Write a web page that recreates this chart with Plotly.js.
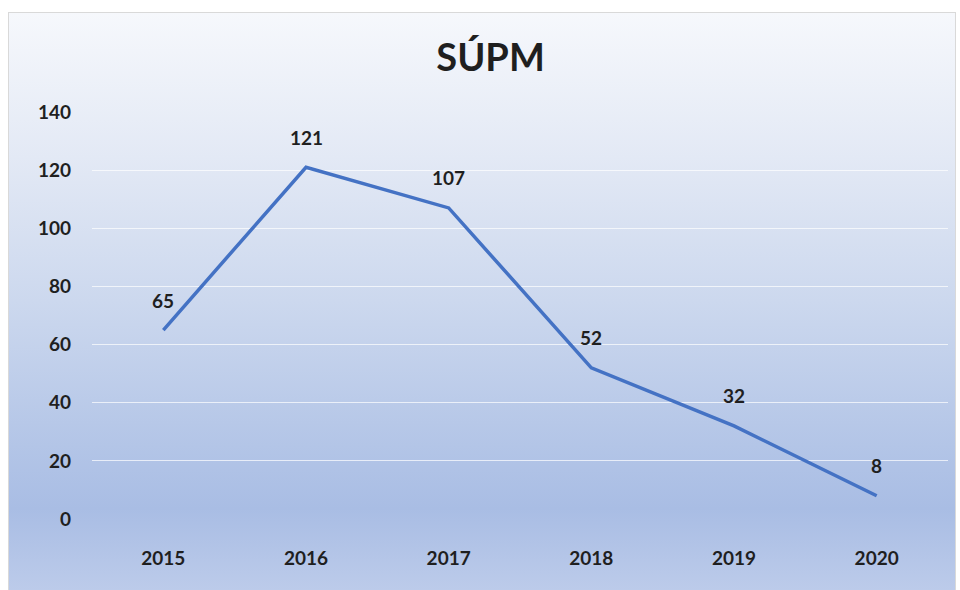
<!DOCTYPE html>
<html>
<head>
<meta charset="utf-8">
<script src="https://cdn.plot.ly/plotly-3.0.1.min.js"></script>
<style>
html,body{margin:0;padding:0;background:#ffffff;}
#bg{position:absolute;left:8px;top:12px;width:946px;height:577px;border:1px solid #d9d9d9;
background:linear-gradient(to bottom,#f6f8fc 0%,#e3e9f5 25%,#ccd8ee 50%,#b3c5e7 75%,#a9bde4 86%,#bccbea 100%);}
#chart{position:absolute;left:0;top:0;width:960px;height:590px;}
</style>
</head>
<body>
<div id="bg"></div>
<div id="chart"></div>
<script>
const years = ['2015','2016','2017','2018','2019','2020'];
const values = [65,121,107,52,32,8];
const yTicks = [0,20,40,60,80,100,120,140];

const fontFam = 'Lato, "Open Sans", sans-serif';
const trace = {
  x: years, y: values, type: 'scatter', mode: 'lines',
  line: {color: '#4472c4', width: 3.5},
  hoverinfo: 'skip'
};
const annotations = years.map((yr, i) => ({
  x: i, y: values[i], xref: 'x', yref: 'y', text: String(values[i]),
  showarrow: false, yshift: 30,
  font: {family: fontFam, size: 19, color: '#1f1f1f', weight: 700}
}));
const layout = {
  width: 960, height: 590,
  paper_bgcolor: 'rgba(0,0,0,0)', plot_bgcolor: 'rgba(0,0,0,0)',
  margin: {l: 92, r: 12, t: 112, b: 71},
  showlegend: false,
  title: {text: 'SÚPM', x: 0.511, xanchor: 'center', y: 1 - 58/590, yanchor: 'middle', yref: 'container',
          font: {family: fontFam, size: 38, color: '#1f1f1f', weight: 'bold'}},
  xaxis: {type: 'category', range: [-0.5, 5.5], showgrid: false, zeroline: false, showline: false,
          ticks: '', ticklabelstandoff: 26,
          tickfont: {family: fontFam, size: 19, color: '#1f1f1f', weight: 'bold'}},
  yaxis: {range: [0, 140], tickvals: yTicks, ticktext: yTicks.map(String),
          showgrid: true, gridcolor: 'rgba(255,255,255,0.7)', gridwidth: 1,
          zeroline: false, showline: false, ticks: '', ticklabelstandoff: 20,
          tickfont: {family: fontFam, size: 19, color: '#1f1f1f', weight: 'bold'}},
  annotations: annotations
};
Plotly.newPlot('chart', [trace], layout, {displayModeBar: false, staticPlot: true});
</script>
</body>
</html>
